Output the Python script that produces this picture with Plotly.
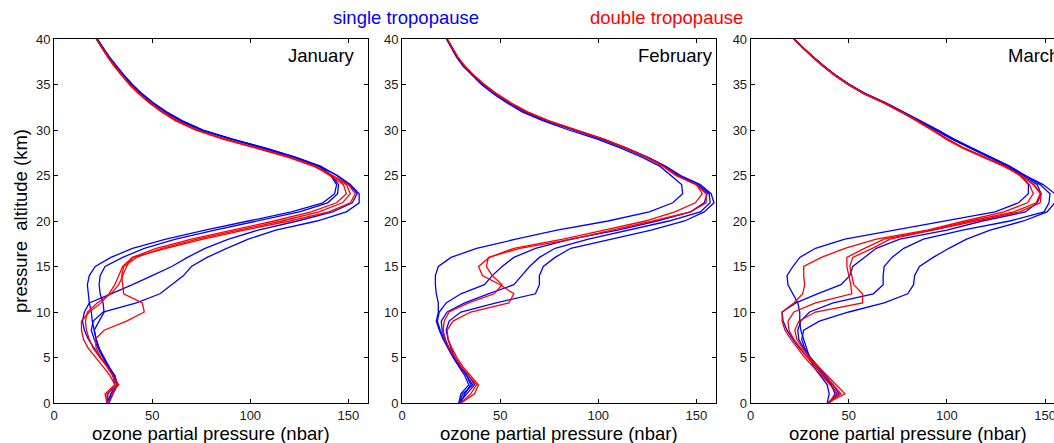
import plotly.graph_objects as go

# ---------------- data ----------------
ALT_KM = list(range(41))  # pressure altitude levels 0..40 km

MONTHS = ["January", "February", "March"]
X_TICKS = [0, 50, 100, 150]
Y_TICKS = [0, 5, 10, 15, 20, 25, 30, 35, 40]

# January
JAN_SINGLE_1 = [27, 27.5, 31, 30, 27.5, 25, 23, 21.5, 20.5, 19.5, 19, 18, 17.5, 17, 18, 21, 29, 40, 57, 77, 99, 121, 137, 143, 144,
                141, 135, 122.5, 107, 90, 75, 64.5, 56.5, 50, 44.3, 39.5, 35.4, 31.4, 28, 24.9, 22]
JAN_SINGLE_2 = [28, 29, 32, 31, 28, 25.5, 23, 21.5, 20.5, 23, 25.5, 25, 23.5, 23, 23.5, 26, 35, 46, 62, 82, 104, 125, 139.5, 144.5, 145,
                141.5, 135.5, 123, 107.5, 90.5, 75.5, 65, 57, 50.3, 44.5, 39.7, 35.5, 31.5, 28, 24.8, 21.9]
JAN_SINGLE_3 = [28, 30, 32.5, 31, 27.5, 23.5, 20.5, 17.5, 15.5, 14.5, 15.5, 18, 29, 40, 50, 60, 68, 77, 89, 104, 124, 142, 152, 154.5, 150.5,
                144, 136, 123.5, 108, 91, 76, 65.5, 57.3, 50.6, 44.8, 40, 35.8, 31.8, 28.3, 25, 22]
JAN_SINGLE_4 = [27, 29, 32, 30.5, 28, 25, 22.5, 20.5, 19, 20, 25, 42, 54, 60, 66, 70, 78, 88, 99, 113, 134, 149, 155.5, 155.5, 151,
                144.5, 135.5, 122.5, 106.5, 89.5, 74.5, 64.5, 56.5, 50, 44.5, 39.6, 35.6, 31.5, 28.1, 24.9, 22.1]
JAN_DOUBLE_1 = [27, 26, 31, 28.5, 25, 21, 17.5, 15, 14, 14, 18, 24, 28, 31, 33, 35, 40, 52, 70, 91, 112, 131, 144, 149, 147.5,
                140.5, 133, 120, 104, 87, 72.5, 62.5, 55, 48.7, 43.3, 38.6, 34.6, 30.8, 27.5, 24.4, 21.5]
JAN_DOUBLE_2 = [27, 27, 33, 30, 27, 24, 21.5, 21, 25.5, 37, 46, 45, 35.5, 35, 34.5, 35.5, 42, 55, 73, 94, 116, 135, 147, 151, 149,
                141.5, 133.5, 120.5, 104.5, 87.5, 73, 63, 55.3, 49, 43.5, 38.8, 34.8, 31, 27.6, 24.5, 21.6]
JAN_DOUBLE_3 = [28, 30, 32, 30, 27, 23.5, 20, 18, 16.5, 16, 17, 22, 29, 33, 35, 37, 40, 57, 76, 97, 120, 140, 151, 153.5, 150,
                142, 132.5, 119.5, 103, 86, 72, 62, 54.6, 48.4, 43, 38.4, 34.5, 30.7, 27.4, 24.3, 21.5]

# February
FEB_SINGLE_1 = [29, 30, 34, 32, 29, 26, 23.5, 21, 19, 17.5, 18.5, 18.5, 17.5, 17, 17, 18.5, 25, 38, 58, 79, 105, 126, 138, 143, 142.5,
                137, 131.5, 122.5, 111.5, 99.5, 85, 72, 61.2, 53.3, 46.5, 40.5, 35.6, 31.2, 27.8, 25.1, 22.6]
FEB_SINGLE_2 = [29, 31, 36, 33, 30, 27, 24, 21.5, 19.5, 18, 19, 22.5, 30, 42, 46, 51, 57, 68, 86, 110, 130, 147, 154, 155.5, 150,
                140, 133.5, 124.5, 113.5, 101.5, 87, 73.5, 62.5, 54.3, 47.2, 41.2, 36.2, 31.6, 28.1, 25.4, 22.9]
FEB_SINGLE_3 = [30, 32, 35, 33, 29.5, 26.5, 24, 22, 20.5, 20, 23, 32, 44, 57, 61, 65, 70, 78, 95, 116, 136, 152, 157, 156.5, 151,
                141, 134, 125, 114, 102, 87.5, 74, 63, 54.6, 47.4, 41.3, 36.3, 31.7, 28.2, 25.4, 22.9]
FEB_SINGLE_4 = [29, 33, 37, 34, 30, 27, 25, 23.5, 22.5, 24, 30, 48, 68, 70, 70, 72, 78, 86, 106, 127, 144, 154, 159, 157.5, 152,
                142, 134.5, 125.5, 114.5, 102.5, 88, 74.3, 63.2, 54.8, 47.6, 41.4, 36.4, 31.8, 28.2, 25.5, 23]
FEB_DOUBLE_1 = [30, 37, 39, 35, 31, 28, 25.5, 23.5, 23, 26, 35, 54.5, 57, 50, 41, 39, 44.5, 57, 82, 103, 124, 139, 149.5, 153, 150,
                139.5, 133, 124.5, 114, 102.5, 88, 74.5, 63.5, 55, 47.8, 41.8, 36.6, 32, 28.4, 25.6, 23]
FEB_DOUBLE_2 = [30, 35, 38, 34, 30, 27, 24, 22, 21, 21.5, 24, 34, 47, 51, 46, 43, 44, 60, 87, 107, 128, 147, 155, 155, 150,
                140, 133.5, 125, 114.5, 103, 88.5, 75, 64, 55.5, 48.2, 42, 36.8, 32.2, 28.5, 25.7, 23.1]

# March
MAR_SINGLE_1 = [39, 40, 39, 35.5, 32, 30, 28.5, 27, 25.5, 25, 25, 24, 21.5, 19, 18.5, 21.5, 25, 33, 48, 74, 100, 124.5, 136.5, 141.5, 141.5,
                137.5, 131, 121.5, 111.5, 102.5, 94, 85, 76.5, 67.5, 57.5, 49.5, 42.8, 36.8, 31.5, 26.6, 22]
MAR_SINGLE_2 = [40, 43, 41, 37, 32.5, 28.5, 25, 21.5, 18.5, 16.5, 16, 23, 34, 46, 50.5, 52, 58, 64, 76, 100, 118, 140, 146, 148, 146,
                139, 131.5, 122, 112, 103, 94.5, 85.5, 77, 68, 58, 50, 43.2, 37.2, 31.8, 26.8, 22.1]
MAR_SINGLE_3 = [39.5, 44, 41, 37.5, 33.5, 30, 27, 24.5, 24, 25.5, 30, 42, 62.5, 67.5, 67.5, 68, 72, 78, 88, 108, 132, 149.5, 152, 152.5, 147.5,
                139.5, 132, 122.5, 112.5, 103.5, 95, 86, 77.5, 68.3, 58.2, 50.2, 43.3, 37.3, 31.8, 26.8, 22]
MAR_SINGLE_4 = [40, 45, 42, 38, 34, 30.5, 27.5, 26, 27, 35, 50, 68, 80, 83, 83.5, 86, 93, 101, 110, 122, 139, 151, 155, 155, 149,
                140, 132, 122.5, 112.5, 103.5, 95.5, 86.5, 78, 68.7, 58.5, 50.4, 43.5, 37.4, 31.9, 26.9, 22.2]
MAR_DOUBLE_1 = [39.5, 44, 40.5, 36, 31.5, 27.5, 24, 20.5, 17.5, 16, 16, 22, 26.5, 27.5, 27, 27, 36, 48, 64, 90, 109, 129, 141, 144, 142,
                137, 130, 119.5, 109, 100.5, 93, 85, 76.8, 67.8, 57.8, 49.8, 43, 37, 31.6, 26.7, 22]
MAR_DOUBLE_2 = [39, 46, 42, 37.5, 33, 29, 25.5, 22, 19.5, 19, 22, 33, 51.5, 51, 50, 49, 49, 58, 68, 92, 112, 134, 145.5, 147.5, 144,
                137.5, 129.5, 119, 108.5, 100, 92.5, 84.5, 76.5, 67.6, 57.7, 49.7, 42.9, 37, 31.7, 26.7, 22]
MAR_DOUBLE_3 = [39, 48, 43.5, 39, 34.5, 30, 26.5, 23.5, 22.5, 24.5, 33, 57, 57, 52.5, 51.5, 50.5, 52, 62, 71, 93, 114, 137, 147.5, 148, 144.5,
                138, 129, 118.5, 108, 99.5, 92.5, 84.7, 76.7, 67.8, 57.9, 49.9, 43.1, 37.1, 31.8, 26.8, 22.1]

SINGLE = [
    [JAN_SINGLE_1, JAN_SINGLE_2, JAN_SINGLE_3, JAN_SINGLE_4],
    [FEB_SINGLE_1, FEB_SINGLE_2, FEB_SINGLE_3, FEB_SINGLE_4],
    [MAR_SINGLE_1, MAR_SINGLE_2, MAR_SINGLE_3, MAR_SINGLE_4],
]
DOUBLE = [
    [JAN_DOUBLE_1, JAN_DOUBLE_2, JAN_DOUBLE_3],
    [FEB_DOUBLE_1, FEB_DOUBLE_2],
    [MAR_DOUBLE_1, MAR_DOUBLE_2, MAR_DOUBLE_3],
]

# ---------------- layout geometry (pixels) ----------------
W, H = 1054, 443
PX_LEFT = [54, 402, 750.7]
PX_PER_UNIT = 314 / 160.0
PLOT_TOP, PLOT_BOTTOM = 39, 403
FONT = "Arial, Liberation Sans, Helvetica, sans-serif"
BLUE = "#0000ff"
RED = "#ff0000"

fig = go.Figure()

for i in range(3):
    suffix = "" if i == 0 else str(i + 1)
    for xs in SINGLE[i]:
        fig.add_trace(go.Scatter(x=xs, y=ALT_KM, mode="lines",
                                 line=dict(color=BLUE, width=1.3),
                                 xaxis="x" + suffix, yaxis="y" + suffix,
                                 hoverinfo="skip", showlegend=False))
    for xs in DOUBLE[i]:
        fig.add_trace(go.Scatter(x=xs, y=ALT_KM, mode="lines",
                                 line=dict(color=RED, width=1.3),
                                 xaxis="x" + suffix, yaxis="y" + suffix,
                                 hoverinfo="skip", showlegend=False))

ydom = [1 - PLOT_BOTTOM / H, 1 - PLOT_TOP / H]
layout = dict(
    template="none",
    width=W, height=H,
    margin=dict(l=0, r=0, t=0, b=0, autoexpand=False),
    paper_bgcolor="white", plot_bgcolor="white",
    showlegend=False,
    font=dict(family=FONT, size=13, color="#1a1a1a"),
)
axis_common = dict(showgrid=False, zeroline=False, showline=True, linecolor="black",
                   linewidth=1, ticks="inside", ticklen=4, tickcolor="black",
                   automargin=False, ticklabeloverflow="allow",
                   tickfont=dict(family=FONT, size=13, color="#1a1a1a"))
for i in range(3):
    suffix = "" if i == 0 else str(i + 1)
    x0 = PX_LEFT[i]
    x1 = min(x0 + 314, W)
    xmax = (x1 - x0) / PX_PER_UNIT
    layout["xaxis" + suffix] = dict(axis_common, domain=[x0 / W, x1 / W], range=[0, xmax],
                                    tickvals=X_TICKS, mirror="ticks",
                                    anchor="y" + suffix)
    layout["yaxis" + suffix] = dict(axis_common, domain=ydom, range=[0, 40],
                                    tickvals=Y_TICKS, mirror=("ticks" if i < 2 else False),
                                    anchor="x" + suffix)
fig.update_layout(**layout)

ann = []
# month labels (data coordinates)
month_x = [118.0, 119.0, 130.1]
for i, m in enumerate(MONTHS):
    suffix = "" if i == 0 else str(i + 1)
    ann.append(dict(text=m, x=month_x[i], y=38.2, xref="x" + suffix, yref="y" + suffix,
                    xanchor="left", yanchor="middle", showarrow=False,
                    font=dict(family=FONT, size=18.5, color="black")))
# x axis titles
for cx in [211, 559, 907.5]:
    ann.append(dict(text="ozone partial pressure (nbar)", x=cx / W, y=(H - 433) / H,
                    xref="paper", yref="paper", xanchor="center", yanchor="middle",
                    showarrow=False, font=dict(family=FONT, size=18.5, color="black")))
# y axis title
ann.append(dict(text="pressure\u00a0 altitude (km)", x=20 / W, y=(H - 221) / H,
                xref="paper", yref="paper", xanchor="center", yanchor="middle",
                textangle=-90, showarrow=False,
                font=dict(family=FONT, size=18.5, color="black")))
# series titles
ann.append(dict(text="single tropopause", x=406 / W, y=(H - 17.5) / H, xref="paper", yref="paper",
                xanchor="center", yanchor="middle", showarrow=False,
                font=dict(family=FONT, size=18.5, color=BLUE)))
ann.append(dict(text="double tropopause", x=666 / W, y=(H - 18) / H, xref="paper", yref="paper",
                xanchor="center", yanchor="middle", showarrow=False,
                font=dict(family=FONT, size=18.5, color=RED)))
fig.update_layout(annotations=ann)

fig.write_html("out.html",
               config={"displayModeBar": False, "staticPlot": True},
               post_script="document.body.style.margin='0';document.body.style.padding='0';"
                           "document.body.style.overflow='hidden';")
